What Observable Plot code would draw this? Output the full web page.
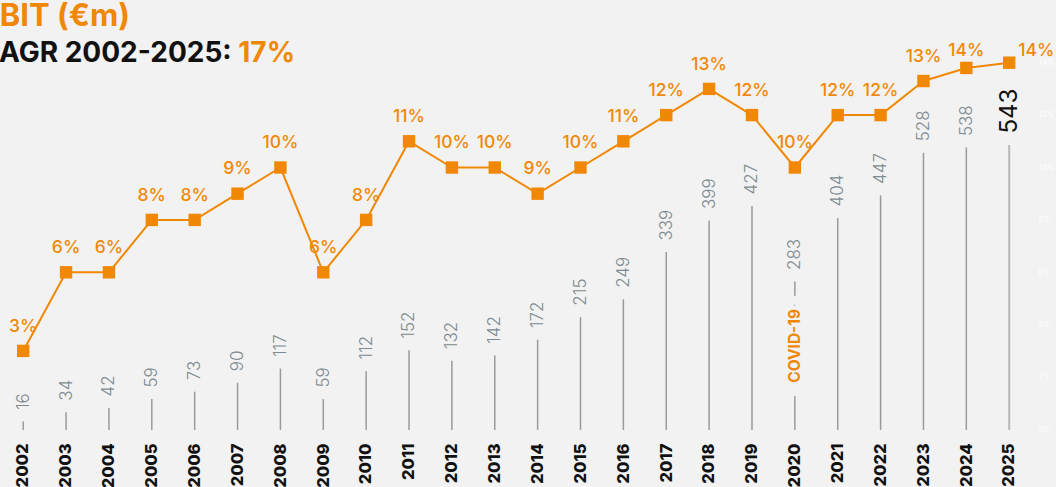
<!DOCTYPE html>
<html><head><meta charset="utf-8">
<script src="https://cdn.jsdelivr.net/npm/d3@7"></script>
<script src="https://cdn.jsdelivr.net/npm/@observablehq/plot@0.6"></script>
<style>
html,body{margin:0;padding:0;background:#f2f2f2;overflow:hidden}
#wrap{position:relative;width:1056px;height:487px;overflow:hidden}
#wrap svg{position:absolute;left:0;top:0}
.t{position:absolute;white-space:nowrap;font-family:Inter,"Open Sans",sans-serif;font-weight:700;z-index:3}
#t1{left:-19px;top:-4px;font-size:31px;color:#f18805}
#t2{left:-21px;top:35px;font-size:28px;color:#111}
#t2 span{color:#f18805}
</style></head><body>
<div id="wrap">
  <div class="t" id="t1">EBIT (€m)</div>
  <div class="t" id="t2">CAGR 2002-2025: <span>17%</span></div>
</div>
<script>
const years = [2002,2003,2004,2005,2006,2007,2008,2009,2010,2011,2012,2013,2014,2015,2016,2017,2018,2019,2020,2021,2022,2023,2024,2025];
const ebit = [16,34,42,59,73,90,117,59,112,152,132,142,172,215,249,339,399,427,283,404,447,528,538,543];
const margin = [3,6,6,8,8,9,10,6,8,11,10,10,9,10,11,12,13,12,10,12,12,13.3,13.8,14];
const marginLabels = ["3%","6%","6%","8%","8%","9%","10%","6%","8%","11%","10%","10%","9%","10%","11%","12%","13%","12%","10%","12%","12%","13%","14%","14%"];
const marginTicks = [0,2,4,6,8,10,12,14];
const notes = [{year: 2020, label: "COVID-19"}];

const ORANGE = "#f18805";
const BG = "#f2f2f2";
const W = 1056, H = 487;
const data = years.map((y,i)=>({year:y, ebit:ebit[i], margin:margin[i], label:marginLabels[i]}));
const last = data[data.length-1];
const rest = data.slice(0,-1);
const xOpts = {domain:[years[0], years[years.length-1]], axis:null};
const ml = 22.7, mr = 47.3;

const bars = Plot.plot({
  width: W, height: H,
  marginLeft: ml, marginRight: mr, marginTop: 145, marginBottom: 57,
  style: {background: "transparent", overflow: "visible"},
  x: xOpts,
  y: {domain:[0, d3.max(ebit)], axis:null},
  marks: [
    Plot.ruleX(rest, {x:"year", y1:0, y2:"ebit", stroke:"#9a9a9a", strokeWidth:1.5}),
    Plot.ruleX([last], {x:"year", y1:0, y2:"ebit", stroke:"#b8b8b8", strokeWidth:2}),
    Plot.text(notes, {x:"year", y: d => ebit[years.indexOf(d.year)] * 0.57, text:"label", rotate:-90,
      fill: ORANGE, stroke: BG, strokeWidth: 28, fontSize: 15.5, fontWeight: 700, fontFamily: "Inter, sans-serif"}),
    Plot.text(rest, {x:"year", y:"ebit", text: d => String(d.ebit), rotate:-90, textAnchor:"start", dy:-12,
      fill:"#7e8b90", fontSize:17, fontWeight:300, fontFamily:"Inter, sans-serif"}),
    Plot.text([last], {x:"year", y:"ebit", text: d => String(d.ebit), rotate:-90, textAnchor:"start", dy:-12,
      fill:"#111", fontSize:24, fontWeight:400, fontFamily:"Inter, sans-serif"}),
    Plot.text(data, {x:"year", y:0, text: d => String(d.year), rotate:-90, textAnchor:"end", dy:13,
      fill:"#111", fontSize:16.5, fontWeight:800, fontFamily:"Inter, sans-serif"})
  ]
});

const yTop = 62.2, yBot = 58;
const pxPerUnit = (H - yTop - yBot) / 14;
const lift = 25 / pxPerUnit;
const cap = (H - yBot - 50) / pxPerUnit;
const labY = d => Math.min(d.margin + lift, cap);

const line = Plot.plot({
  width: W, height: H,
  marginLeft: ml, marginRight: mr, marginTop: yTop, marginBottom: yBot,
  style: {background: "transparent", overflow: "visible"},
  x: xOpts,
  y: {domain:[0,14], label: null},
  marks: [
    Plot.axisY(marginTicks, {anchor:"right", tickSize:0, tickPadding:29, tickFormat: d => d + "%", label: null,
      color:"#ffffff", fontSize:7, fontFamily:"Inter, sans-serif"}),
    Plot.line(data, {x:"year", y:"margin", stroke:ORANGE, strokeWidth:2}),
    Plot.dot(data, {x:"year", y:"margin", symbol:"square", r:7, fill:ORANGE}),
    Plot.text(rest, {x:"year", y:labY, text:"label", fill:ORANGE, fontSize:17.5, fontWeight:500, fontFamily:"Inter, sans-serif"}),
    Plot.text([last], {x:"year", y:labY, text:"label", dx:27, fill:ORANGE, fontSize:17.5, fontWeight:500, fontFamily:"Inter, sans-serif"})
  ]
});

const wrap = document.getElementById("wrap");
wrap.appendChild(bars);
wrap.appendChild(line);
</script>
</body></html>
